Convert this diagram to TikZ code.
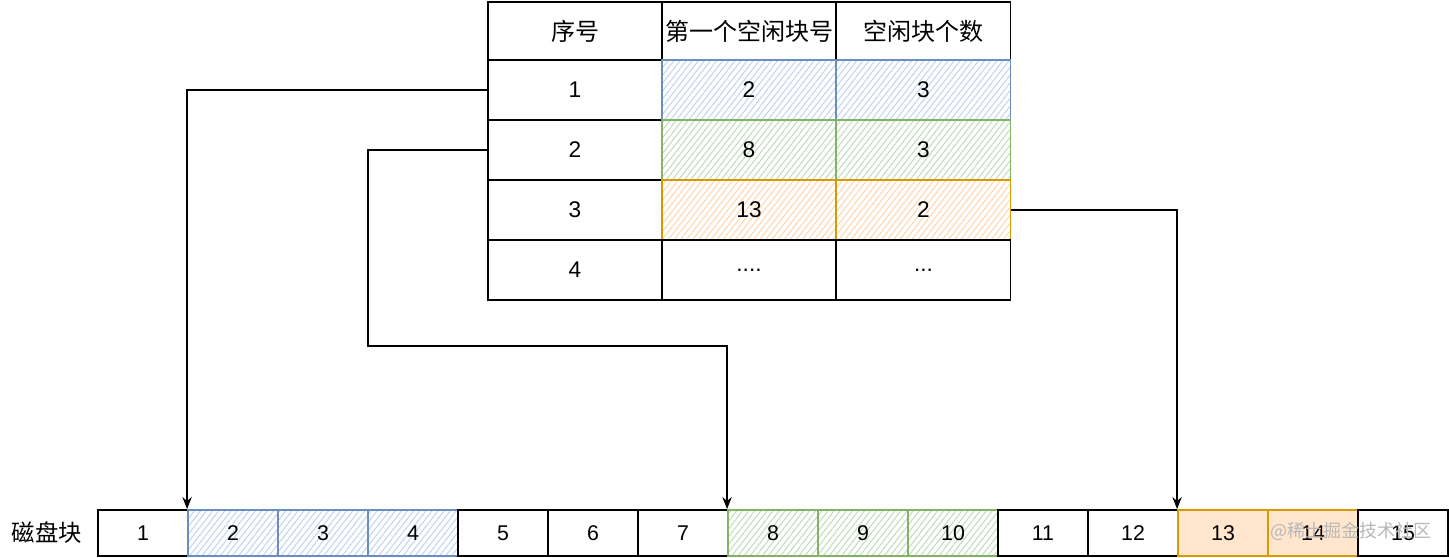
\documentclass[tikz,border=0pt]{standalone}
\usepackage{fontspec}
\setmainfont{Liberation Sans}
\newfontfamily\cjk{Noto Sans CJK SC}
\usetikzlibrary{patterns.meta,arrows.meta}
\definecolor{bluefill}{HTML}{DAE8FC}
\definecolor{bluestroke}{HTML}{6C8EBF}
\definecolor{bluehatch}{HTML}{BDD1F0}
\definecolor{greenfill}{HTML}{D5E8D4}
\definecolor{greenstroke}{HTML}{82B366}
\definecolor{greenhatch}{HTML}{BBDAB8}
\definecolor{orangefill}{HTML}{FFE6CC}
\definecolor{orangestroke}{HTML}{D79B00}
\definecolor{orangehatch}{HTML}{FFD3A6}
\definecolor{wmark}{HTML}{B8B8B8}
\begin{document}
\begin{tikzpicture}[x=0.75pt,y=-0.75pt,
  box/.style={draw=black, line width=1.4pt, fill=white, inner sep=0pt},
  tcell/.style={box, minimum width=130.5pt, minimum height=45pt, font=\fontsize{17}{20}\selectfont},
  hcell/.style={tcell, minimum height=43.5pt, font=\cjk\fontsize{18}{21}\selectfont},
  dcell/.style={box, minimum width=67.5pt, minimum height=34.5pt, font=\fontsize{16}{19}\selectfont},
  hatchblue/.style={draw=bluestroke, preaction={fill=white}, pattern={Lines[angle=52,distance=3.6pt,line width=0.7pt]}, pattern color=bluehatch},
  hatchgreen/.style={draw=greenstroke, preaction={fill=white}, pattern={Lines[angle=52,distance=3.6pt,line width=0.7pt]}, pattern color=greenhatch},
  hatchorange/.style={draw=orangestroke, preaction={fill=white}, pattern={Lines[angle=52,distance=3.6pt,line width=0.7pt]}, pattern color=orangehatch},
  solidorange/.style={draw=orangestroke, fill=orangefill},
  conn/.style={draw=black, line width=1.1pt, -{Stealth[length=9pt,width=7pt]}}
]
\useasboundingbox (0,0) rectangle (1449,557);

% table header
\node[hcell] (h1) at (575,31) {序号};
\node[hcell] (h2) at (749,31) {第一个空闲块号};
\node[hcell] (h3) at (923.5,31) {空闲块个数};
% rows
\node[tcell] (r1c1) at (575,90) {1};
\node[tcell,hatchblue] (r1c2) at (749,90) {2};
\node[tcell,hatchblue] (r1c3) at (923.5,90) {3};
\node[tcell] (r2c1) at (575,150) {2};
\node[tcell,hatchgreen] (r2c2) at (749,150) {8};
\node[tcell,hatchgreen] (r2c3) at (923.5,150) {3};
\node[tcell] (r3c1) at (575,210) {3};
\node[tcell,hatchorange] (r3c2) at (749,210) {13};
\node[tcell,hatchorange] (r3c3) at (923.5,210) {2};
\node[tcell] (r4c1) at (575,270) {4};
\node[tcell] (r4c2) at (749,270) {....};
\node[tcell] (r4c3) at (923.5,270) {...};

% disk label
\node[font=\cjk\fontsize{17.5}{20}\selectfont] (lbl) at (47,533) {磁盘块};

% disk blocks
\node[dcell] (b1) at (143,533) {1};
\node[dcell,hatchblue] (b2) at (233,533) {2};
\node[dcell,hatchblue] (b3) at (323,533) {3};
\node[dcell,hatchblue] (b4) at (413,533) {4};
\node[dcell] (b5) at (503,533) {5};
\node[dcell] (b6) at (593,533) {6};
\node[dcell] (b7) at (683,533) {7};
\node[dcell,hatchgreen] (b8) at (773,533) {8};
\node[dcell,hatchgreen] (b9) at (863,533) {9};
\node[dcell,hatchgreen] (b10) at (953,533) {10};
\node[dcell] (b11) at (1043,533) {11};
\node[dcell] (b12) at (1133,533) {12};
\node[dcell,solidorange] (b13) at (1223,533) {13};
\node[dcell,solidorange] (b14) at (1313,533) {14};
\node[dcell] (b15) at (1403,533) {15};

% watermark
\node[text=wmark, font=\cjk\fontsize{13.5}{16}\selectfont] (wm) at (1351,531) {@稀土掘金技术社区};

% connectors
\coordinate (k1) at (368,346);
\draw[conn] (r1c1.west) -| (b2.north west);
\draw[conn] (r2c1.west) -| (k1) -| (b8.north west);
\draw[conn] (r3c3.east) -| (b13.north west);
\end{tikzpicture}
\end{document}
